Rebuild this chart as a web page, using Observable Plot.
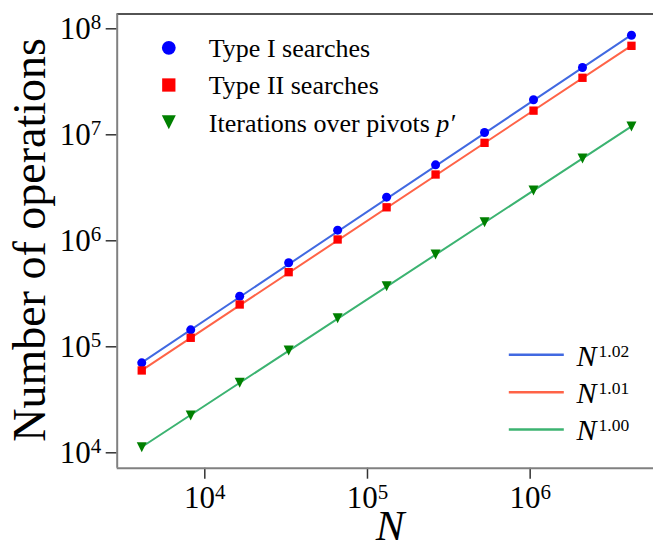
<!DOCTYPE html>
<html><head><meta charset="utf-8">
<script src="https://cdn.jsdelivr.net/npm/d3@7"></script>
<script src="https://cdn.jsdelivr.net/npm/@observablehq/plot@0.6"></script>
<style>body{margin:0;background:#fff} svg{display:block}</style>
</head><body>
<script>
// ---- data ----
const N = [4096, 8192, 16384, 32768, 65536, 131072, 262144, 524288, 1048576, 2097152, 4194304];
const typeI  = [70600, 144600, 300000, 620000, 1259000, 2580000, 5210000, 10500000, 21400000, 43100000, 87000000];
const typeII = [59800, 121600, 250600, 505700, 1029000, 2070000, 4220000, 8400000, 16900000, 34500000, 69100000];
const pivots = [11300, 22500, 45700, 92300, 186000, 373000, 743000, 1498000, 2980000, 5970000, 11970000];
const fitN      = [4096, 4194304];
const fitTypeI  = [71000, 87500000];
const fitTypeII = [60000, 69500000];
const fitPivots = [11350, 12000000];
const seriesNames = ["Type I searches", "Type II searches", "Iterations over pivots _p′_"];
const fitLabels = ["_N_^{1.02}", "_N_^{1.01}", "_N_^{1.00}"];
const xTicks = [1e4, 1e5, 1e6];
const yTicks = [1e4, 1e5, 1e6, 1e7, 1e8];
const xDomain = [2894, 5.73e6];
const yDomain = [7156, 1.379e8];

// ---- styles ----
const markerColors = ["#0000ff", "#ff0000", "#008000"];
const lineColors = ["#4169e1", "#ff6347", "#3cb371"];
const triDown = {draw(ctx, size) { const h = Math.sqrt(size / Math.PI); ctx.moveTo(0, h); ctx.lineTo(-h, -h); ctx.lineTo(h, -h); ctx.closePath(); }};
const hline = {draw(ctx) { ctx.moveTo(-27.5, 0); ctx.lineTo(27.5, 0); }};
const symbols = ["circle", "square", triDown];
const dataR = [4.5, 4.7, 5];
const legendR = [6.9, 7.5, 7];

const rows = N.map((n, i) => ({N: n, typeI: typeI[i], typeII: typeII[i], pivots: pivots[i]}));
const fitRows = fitN.map((n, i) => ({N: n, typeI: fitTypeI[i], typeII: fitTypeII[i], pivots: fitPivots[i]}));
const keys = ["typeI", "typeII", "pivots"];

const chart = Plot.plot({
  width: 653, height: 550,
  marginLeft: 116.7, marginTop: 13.5, marginRight: 0, marginBottom: 82.3,
  style: {fontFamily: "'Liberation Serif', serif", fontSize: "26px", background: "white", color: "black"},
  x: {type: "log", domain: xDomain},
  y: {type: "log", domain: yDomain},
  marks: [
    ...keys.map((k, i) => Plot.line(fitRows, {x: "N", y: k, stroke: lineColors[i], strokeWidth: 2})),
    ...keys.map((k, i) => Plot.dot(rows, {x: "N", y: k, symbol: symbols[i], r: dataR[i], fill: markerColors[i], stroke: "none"})),
    Plot.axisX({ticks: xTicks, tickFormat: d => "10^{" + Math.round(Math.log10(d)) + "}", tickSize: 11, tickPadding: 7, stroke: "#333", strokeWidth: 1.5, fill: "black", fontSize: 31, label: null}),
    Plot.axisY({ticks: yTicks, tickFormat: d => "10^{" + Math.round(Math.log10(d)) + "}", tickSize: 11, tickPadding: 5, stroke: "#333", strokeWidth: 1.5, fill: "black", fontSize: 31, label: null}),
    Plot.ruleY([yDomain[1]], {stroke: "#1a1a1a", strokeWidth: 1.5}),
    Plot.ruleX([xDomain[0]], {stroke: "#808080", strokeWidth: 2}),
    Plot.ruleY([yDomain[0]], {stroke: "#808080", strokeWidth: 2}),
    ...seriesNames.flatMap((name, i) => [
      Plot.dot([0], {frameAnchor: "top-left", dx: 51.6, dy: 33.8 + 37.2 * i, symbol: symbols[i], r: legendR[i], fill: markerColors[i], stroke: "none"}),
      Plot.text([name], {frameAnchor: "top-left", dx: 91.6, dy: 43.2 + 37.2 * i, text: d => d, textAnchor: "start", lineAnchor: "bottom", fontSize: 26, fill: "black"})
    ]),
    ...fitLabels.flatMap((label, i) => [
      Plot.dot([0], {frameAnchor: "top-left", dx: 419.1, dy: 340.8 + 37.4 * i, symbol: hline, r: 1, stroke: lineColors[i], strokeWidth: 2.5, fill: "none"}),
      Plot.text([label], {frameAnchor: "top-left", dx: 459.3, dy: 351.5 + 37.4 * i, text: d => d, textAnchor: "start", lineAnchor: "bottom", fontSize: 30, fill: "black"})
    ])
  ]
});
document.body.appendChild(chart);

// ---- rich text: _italic_ and ^{superscript} ----
const svgns = "http://www.w3.org/2000/svg";
function rich(node, supPx, raisePx, supDx) {
  const s = node.textContent;
  node.textContent = "";
  const re = /_([^_]+)_|\^\{([^}]+)\}|([^_^]+)/g;
  let m;
  while ((m = re.exec(s))) {
    const t = document.createElementNS(svgns, "tspan");
    if (m[1]) { t.textContent = m[1]; t.setAttribute("font-style", "italic"); }
    else if (m[2]) { t.textContent = m[2]; t.setAttribute("font-size", supPx + "px"); t.setAttribute("dy", (-raisePx) + "px"); t.setAttribute("dx", supDx + "px"); }
    else t.textContent = m[3];
    node.appendChild(t);
  }
}
chart.querySelectorAll("text").forEach(node => {
  const s = node.textContent;
  if (!/[\^_]/.test(s)) return;
  if (s.startsWith("10^")) rich(node, 21, 9.3, 0);
  else if (s.startsWith("_N_")) rich(node, 17.5, 9, 2);
  else rich(node, 20, 9, 0);
});

// ---- axis titles ----
const svg = d3.select(chart);
svg.append("text").attr("x", 390).attr("y", 540).attr("text-anchor", "middle")
  .attr("font-size", 43).attr("font-style", "italic").attr("fill", "black").text("N");
svg.append("text").attr("transform", "translate(45,240) rotate(-90)").attr("text-anchor", "middle")
  .attr("font-size", 46).attr("fill", "black").text("Number of operations");
</script>
</body></html>
